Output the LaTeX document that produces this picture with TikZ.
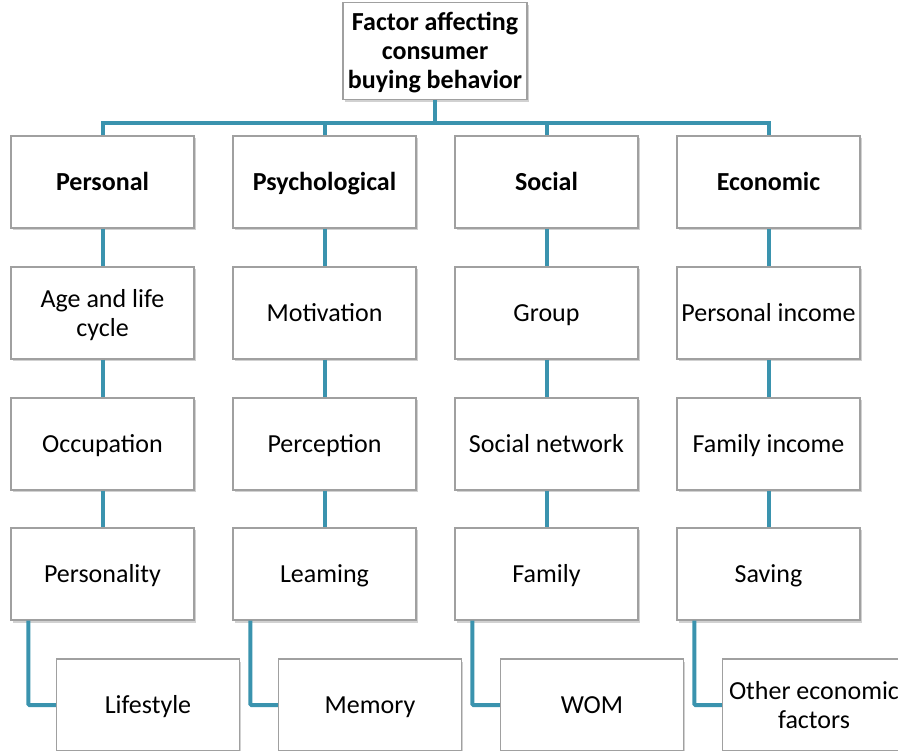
\documentclass[tikz,border=0pt]{standalone}
\usepackage{fontspec}
\setmainfont{Carlito}
\usetikzlibrary{shadows}
\definecolor{linkblue}{RGB}{58,147,174}
\definecolor{boxgray}{RGB}{160,160,160}
\newcommand\toprow{\rule{0pt}{26pt}}

\begin{document}
\begin{tikzpicture}[x=1pt, y=-1pt,
		factor/.style={draw=boxgray, line width=1.2pt, fill=white, minimum width=183pt, minimum height=92pt,
			align=center, inner sep=2pt, execute at begin node=\toprow, execute at end node=\strut,
			font=\fontsize{26}{29}\selectfont,
			drop shadow={shadow xshift=1.5pt, shadow yshift=-2.5pt, opacity=0.3, fill=black!60}},
		head/.style={factor, font=\fontsize{26}{29}\selectfont\bfseries},
		link/.style={draw=linkblue, line width=4pt}]
		\useasboundingbox (0, 0) rectangle (898, 751);
		\clip (0, 0) rectangle (898, 751);
		% Top box and the four groups:
		\node[head, minimum width=184pt] (top) at (435, 51) {\toprow Factor affecting\\consumer\\buying behavior};
		\node[head] (per) at (102.5, 182) {Personal};
		\node[head] (psy) at (324.5, 182) {Psychological};
		\node[head] (soc) at (546.5, 182) {Social};
		\node[head] (eco) at (768.5, 182) {Economic};
		\coordinate (bus) at ([yshift=-23pt]top.south);
		% Personal column
		\node[factor] (age) at (102.5, 313) {\toprow Age and life\\cycle};
		\node[factor] (occ) at (102.5, 444) {Occupation};
		\node[factor] (pers) at (102.5, 574) {Personality};
		\node[factor] (life) at (148, 705) {Lifestyle};
		% Psychological column
		\node[factor] (mot) at (324.5, 313) {Motivation};
		\node[factor] (perc) at (324.5, 444) {Perception};
		\node[factor] (learn) at (324.5, 574) {Leaming};
		\node[factor] (mem) at (370, 705) {Memory};
		% Social column
		\node[factor] (grp) at (546.5, 313) {Group};
		\node[factor] (net) at (546.5, 444) {Social network};
		\node[factor] (fam) at (546.5, 574) {Family};
		\node[factor] (wom) at (592, 705) {WOM};
		% Economic column
		\node[factor] (pinc) at (768.5, 313) {Personal income};
		\node[factor] (finc) at (768.5, 444) {Family income};
		\node[factor] (sav) at (768.5, 574) {Saving};
		\node[factor] (oth) at (814, 705) {\toprow Other economic\\factors};
		% Wires:
		\draw[link] (top.south) -- (bus);
		\draw[link] (per.north) |- (bus) -| (eco.north);
		\draw[link] (psy.north) -- (psy.north |- bus);
		\draw[link] (soc.north) -- (soc.north |- bus);
		\draw[link] (per.south) -- (age.north) (age.south) -- (occ.north) (occ.south) -- (pers.north);
		\draw[link] (psy.south) -- (mot.north) (mot.south) -- (perc.north) (perc.south) -- (learn.north);
		\draw[link] (soc.south) -- (grp.north) (grp.south) -- (net.north) (net.south) -- (fam.north);
		\draw[link] (eco.south) -- (pinc.north) (pinc.south) -- (finc.north) (finc.south) -- (sav.north);
		\draw[link, rounded corners=1pt] ([xshift=18pt]pers.south west) |- (life.west);
		\draw[link, rounded corners=1pt] ([xshift=18pt]learn.south west) |- (mem.west);
		\draw[link, rounded corners=1pt] ([xshift=18pt]fam.south west) |- (wom.west);
		\draw[link, rounded corners=1pt] ([xshift=18pt]sav.south west) |- (oth.west);
	\end{tikzpicture}
\end{document}
